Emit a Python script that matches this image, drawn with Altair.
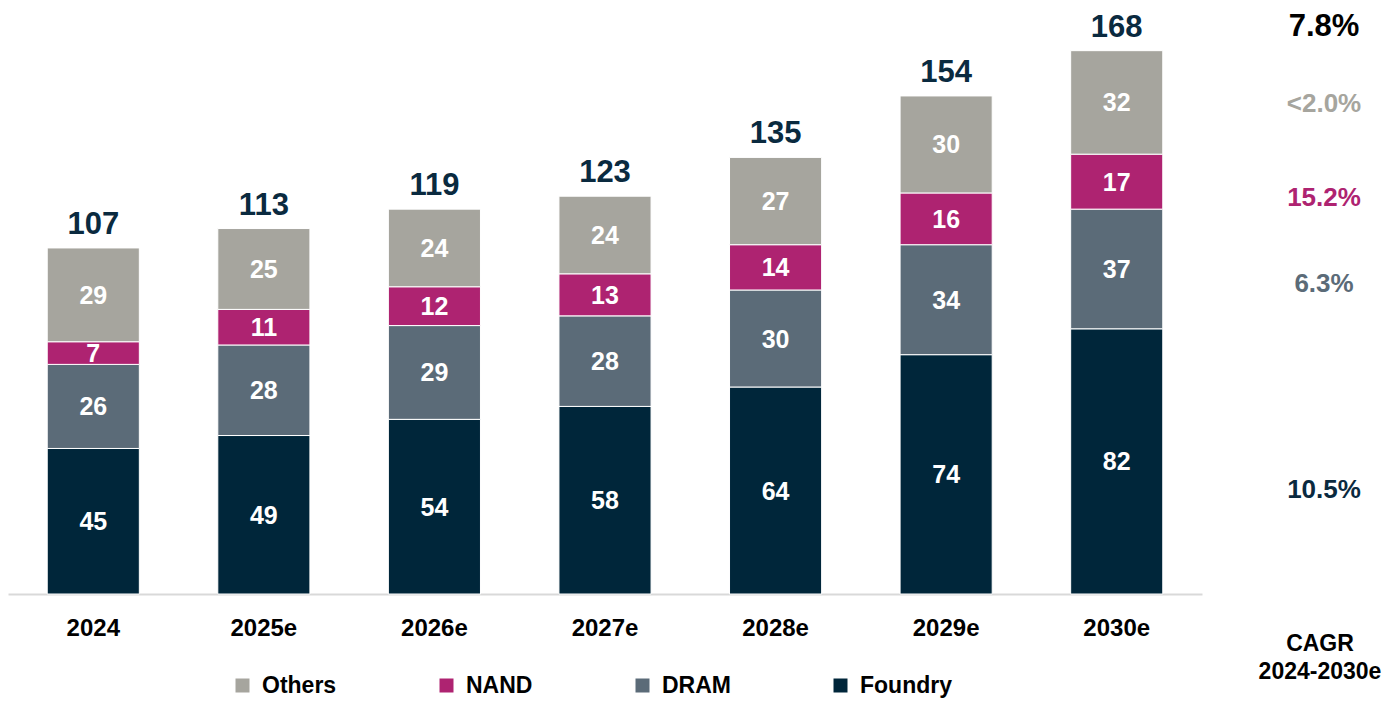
import altair as alt
import pandas as pd

# ---- data ----
years = ["2024", "2025e", "2026e", "2027e", "2028e", "2029e", "2030e"]
foundry = [45, 49, 54, 58, 64, 74, 82]
dram = [26, 28, 29, 28, 30, 34, 37]
nand = [7, 11, 12, 13, 14, 16, 17]
others = [29, 25, 24, 24, 27, 30, 32]
totals = [107, 113, 119, 123, 135, 154, 168]

segments = ["Foundry", "DRAM", "NAND", "Others"]
legend_order = ["Others", "NAND", "DRAM", "Foundry"]

cagr_labels = ["7.8%", "<2.0%", "15.2%", "6.3%", "10.5%", "CAGR", "2024-2030e"]
cagr_values_at = [175.3, 151.5, 122.4, 95.9, 32.2, -15.5, -24.1]

# ---- styling ----
FONT = "Liberation Sans"
COLORS = {"Others": "#A6A59E", "NAND": "#AE2371", "DRAM": "#5B6B78", "Foundry": "#00263A"}
TOTAL_COLOR = "#0A2A3F"
cagr_colors = ["#000000", "#A6A59E", "#AE2371", "#5B6B78", "#0A2A3F", "#000000", "#000000"]
cagr_sizes = [31, 26, 26, 26, 26, 23, 23]
cagr_dx = [0, 0, 0, 0, 0, -4, -4]

rows = []
for i, yr in enumerate(years):
    for k, (s, vals) in enumerate(zip(segments, [foundry, dram, nand, others])):
        rows.append({"year": yr, "segment": s, "value": vals[i], "order": k})
df = pd.DataFrame(rows)
tot_df = pd.DataFrame({"year": years, "total": totals})

YMAX = 178.1
xscale = alt.Scale(domain=years, paddingInner=0.46, paddingOuter=0.23)
yscale = alt.Scale(domain=[0, YMAX], nice=False, zero=True)

x_enc = alt.X(
    "year:N", scale=xscale, sort=years,
    axis=alt.Axis(title=None, labelAngle=0, labelFont=FONT, labelFontSize=24,
                  labelFontWeight="bold", labelColor="#000000",
                  domainColor="#D9D9D9", domainWidth=2, ticks=False,
                  labelPadding=22, grid=False),
)

base = alt.Chart(df).transform_stack(
    stack="value", as_=["y0", "y1"], groupby=["year"],
    sort=[alt.SortField("order", order="ascending")],
).transform_calculate(mid="(datum.y0 + datum.y1) / 2")

bars = base.mark_bar(stroke="white", strokeWidth=1).encode(
    x=x_enc,
    y=alt.Y("y0:Q", scale=yscale, axis=None),
    y2="y1:Q",
    color=alt.Color(
        "segment:N",
        scale=alt.Scale(domain=legend_order, range=[COLORS[s] for s in legend_order]),
        legend=alt.Legend(
            title=None, orient="none", legendX=223, legendY=656,
            direction="horizontal", columns=4, gridAlign="none",
            symbolType="square", symbolSize=196, symbolStrokeWidth=0,
            labelFont=FONT, labelFontSize=23, labelFontWeight="bold",
            labelColor="#000000", labelOffset=8, columnPadding=98,
        ),
    ),
)

seg_text = base.mark_text(
    font=FONT, fontSize=25, fontWeight="bold", color="white", baseline="middle", dy=1
).encode(
    x=alt.X("year:N", scale=xscale, sort=years),
    y=alt.Y("mid:Q", scale=yscale),
    text=alt.Text("value:Q"),
)

tot_text = alt.Chart(tot_df).mark_text(
    font=FONT, fontSize=31, fontWeight="bold", color=TOTAL_COLOR,
    baseline="alphabetic", dy=-14,
).encode(
    x=alt.X("year:N", scale=xscale, sort=years),
    y=alt.Y("total:Q", scale=yscale),
    text=alt.Text("total:Q"),
)

layers = [bars, seg_text, tot_text]
for lab, yv, col, fs, ddx in zip(cagr_labels, cagr_values_at, cagr_colors, cagr_sizes, cagr_dx):
    layers.append(
        alt.Chart(pd.DataFrame({"label": [lab], "pos": [yv]})).mark_text(
            font=FONT, fontSize=fs, fontWeight="bold", color=col, baseline="middle", dx=ddx,
        ).encode(
            x=alt.value(1316),
            y=alt.Y("pos:Q", scale=yscale),
            text="label:N",
        )
    )

chart = alt.layer(*layers).properties(
    width=1194, height=576,
    background="white",
    autosize=alt.AutoSizeParams(type="none"),
    padding={"left": 0, "top": 10, "right": 181, "bottom": 104},
).configure_view(stroke=None)

chart.save("out.html", embed_options={"renderer": "svg", "actions": False})
